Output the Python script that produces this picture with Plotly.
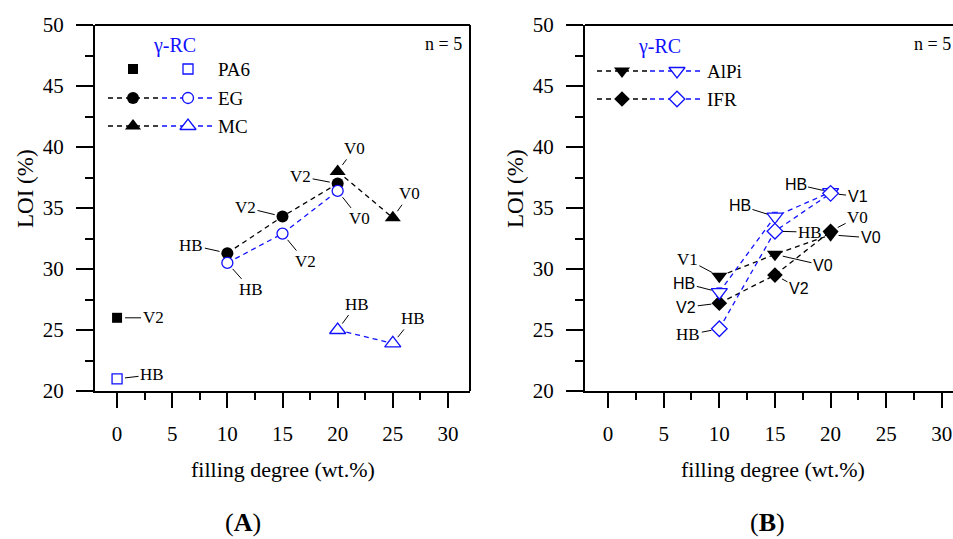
import plotly.graph_objects as go

# ---------------- data ----------------
# Panel A
pa6_x = [0]
pa6_loi = [26.0]
pa6_rc_loi = [21.0]
pa6_ul = ["V2"]
pa6_rc_ul = ["HB"]

eg_x = [10, 15, 20]
eg_loi = [31.3, 34.3, 37.0]
eg_rc_loi = [30.5, 32.9, 36.4]
eg_ul = ["HB", "V2", "V2"]
eg_rc_ul = ["HB", "V2", "V0"]

mc_x = [20, 25]
mc_loi = [38.0, 34.2]
mc_rc_loi = [25.0, 23.9]
mc_ul = ["V0", "V0"]
mc_rc_ul = ["HB", "HB"]

# Panel B
alpi_x = [10, 15, 20]
alpi_loi = [29.4, 31.2, 32.8]
alpi_rc_loi = [28.1, 34.3, 36.3]
alpi_ul = ["V1", "V0", "V0"]
alpi_rc_ul = ["HB", "HB", "HB"]

ifr_x = [10, 15, 20]
ifr_loi = [27.2, 29.5, 33.1]
ifr_rc_loi = [25.1, 33.1, 36.2]
ifr_ul = ["V2", "V2", "V0"]
ifr_rc_ul = ["HB", "HB", "V1"]

err_rc = 0.35  # small error bars visible inside the open markers

x_ticks = [0, 5, 10, 15, 20, 25, 30]
y_ticks = [20, 25, 30, 35, 40, 45, 50]
x_title = "filling degree (wt.%)"
y_title = "LOI (%)"
panel_a = "(<b>A</b>)"
panel_b = "(<b>B</b>)"
rc_label = "γ-RC"
n_label = "n = 5"
legend_a = ["PA6", "EG", "MC"]
legend_b = ["AlPi", "IFR"]

# ---------------- style ----------------
W, H = 953, 539
SERIF = "Liberation Serif"
SANS = "Liberation Sans"
BLUE = "#1010ff"
DASH = "5px,4px"

def px(v):
    return v / W

def py(v):
    return 1 - v / H

# panel frames in pixels
A_L, A_R, TOP, BOT = 95, 470, 25, 391
B_L = 585

fig = go.Figure()

def line_trace(x, y, color, xa, ya):
    fig.add_trace(go.Scatter(x=x, y=y, mode="lines", xaxis=xa, yaxis=ya,
                             line=dict(color=color, width=1.3, dash=DASH),
                             hoverinfo="skip", showlegend=False))

def mark_trace(x, y, symbol, size, filled, xa, ya, err=None):
    if filled:
        marker = dict(symbol=symbol, size=size, color="black", line=dict(width=0))
    else:
        marker = dict(symbol=symbol, size=size, color="white", line=dict(color=BLUE, width=1.3))
    kw = {}
    if err is not None:
        kw["error_y"] = dict(type="constant", value=err, color=BLUE, thickness=1, width=3)
    fig.add_trace(go.Scatter(x=x, y=y, mode="markers", xaxis=xa, yaxis=ya,
                             marker=marker, showlegend=False, **kw))

TRI = 14
DIA = 12

# ---- Panel A traces ----
line_trace(eg_x, eg_loi, "black", "x", "y")
line_trace(mc_x, mc_loi, "black", "x", "y")
line_trace(eg_x, eg_rc_loi, BLUE, "x", "y")
line_trace(mc_x, mc_rc_loi, BLUE, "x", "y")
mark_trace(pa6_x, pa6_loi, "square", 10, True, "x", "y")
mark_trace(eg_x, eg_loi, "circle", 12, True, "x", "y")
mark_trace(mc_x, mc_loi, "triangle-up", TRI, True, "x", "y")
mark_trace(pa6_x, pa6_rc_loi, "square", 10, False, "x", "y", err_rc)
mark_trace(eg_x, eg_rc_loi, "circle", 11, False, "x", "y", err_rc)
mark_trace(mc_x, mc_rc_loi, "triangle-up", TRI, False, "x", "y")

# ---- Panel B traces ----
line_trace(alpi_x, alpi_loi, "black", "x2", "y2")
line_trace(ifr_x, ifr_loi, "black", "x2", "y2")
line_trace(alpi_x, alpi_rc_loi, BLUE, "x2", "y2")
line_trace(ifr_x, ifr_rc_loi, BLUE, "x2", "y2")
mark_trace(alpi_x, alpi_loi, "triangle-down", TRI, True, "x2", "y2")
mark_trace(ifr_x, ifr_loi, "diamond", DIA, True, "x2", "y2")
mark_trace(alpi_x, alpi_rc_loi, "triangle-down", TRI, False, "x2", "y2", err_rc)
mark_trace(ifr_x, ifr_rc_loi, "diamond", DIA, False, "x2", "y2", err_rc)

# ---- point labels with leader lines ----
def labels(xs, ys, texts, offs, xref, yref, standoff=8):
    for x, y, t, (ax, ay, fam) in zip(xs, ys, texts, offs):
        fig.add_annotation(x=x, y=y, xref=xref, yref=yref, text=t,
                           showarrow=True, arrowhead=0, arrowwidth=1, arrowcolor="black",
                           ax=ax, ay=ay, standoff=standoff,
                           font=dict(family=fam, size=17 if fam == SERIF else 16, color="black"))

labels(pa6_x, pa6_loi, pa6_ul, [(36, 0, SERIF)], "x", "y")
labels(pa6_x, pa6_rc_loi, pa6_rc_ul, [(35, -4, SERIF)], "x", "y")
labels(eg_x, eg_loi, eg_ul, [(-36, -8, SERIF), (-37, -9, SERIF), (-37, -7, SERIF)], "x", "y")
labels(eg_x, eg_rc_loi, eg_rc_ul, [(24, 27, SERIF), (23, 28, SERIF), (22, 28, SERIF)], "x", "y")
labels(mc_x, mc_loi, mc_ul, [(17, -23, SERIF), (17, -24, SERIF)], "x", "y")
labels(mc_x, mc_rc_loi, mc_rc_ul, [(19, -26, SERIF), (20, -25, SERIF)], "x", "y")

labels(alpi_x, alpi_loi, alpi_ul, [(-32, -17, SERIF), (48, 11, SANS), (40, 3, SANS)], "x2", "y2")
labels(ifr_x, ifr_loi, ifr_ul, [(-33, 4, SANS), (24, 13, SANS), (27, -14, SERIF)], "x2", "y2")
labels(alpi_x, alpi_rc_loi, alpi_rc_ul, [(-35, -9, SANS), (-35, -11, SANS), (-35, -8, SANS)], "x2", "y2")
labels(ifr_x, ifr_rc_loi, ifr_rc_ul, [(-31, 6, SERIF), (35, 1, SERIF), (27, 3, SANS)], "x2", "y2")

# ---- legends (drawn in pixel-unit overlay axes) ----
def leg_line(x0, x1, y, color, xa, ya):
    fig.add_trace(go.Scatter(x=[x0, x1], y=[y, y], mode="lines", xaxis=xa, yaxis=ya,
                             line=dict(color=color, width=1.3, dash=DASH),
                             hoverinfo="skip", showlegend=False))

def leg_mark(x, y, symbol, size, filled, xa, ya):
    mark_trace([x], [y], symbol, size, filled, xa, ya)

# legend A
leg_rows_a = [69, 98, 126]
syms_a = [("square", 10, 10), ("circle", 12, 11), ("triangle-up", TRI, TRI)]
for i, (row, (sym, sb, so)) in enumerate(zip(leg_rows_a, syms_a)):
    if i > 0:
        leg_line(108, 162, row, "black", "x3", "y3")
        leg_line(162, 213, row, BLUE, "x3", "y3")
    leg_mark(133, row, sym, sb, True, "x3", "y3")
    leg_mark(188, row, sym, so, False, "x3", "y3")
    fig.add_annotation(x=216, y=row, xref="x3", yref="y3", text=legend_a[i], showarrow=False,
                       xanchor="left", yanchor="middle",
                       font=dict(family=SERIF, size=19, color="black"))
fig.add_annotation(x=174, y=45, xref="x3", yref="y3", text=rc_label, showarrow=False,
                   yanchor="middle", font=dict(family=SERIF, size=20, color=BLUE))

# legend B
leg_rows_b = [71, 99]
syms_b = [("triangle-down", TRI, TRI), ("diamond", DIA, DIA)]
for i, (row, (sym, sb, so)) in enumerate(zip(leg_rows_b, syms_b)):
    leg_line(597, 650, row, "black", "x4", "y4")
    leg_line(650, 702, row, BLUE, "x4", "y4")
    leg_mark(622, row, sym, sb, True, "x4", "y4")
    leg_mark(677, row, sym, so, False, "x4", "y4")
    fig.add_annotation(x=705, y=row, xref="x4", yref="y4", text=legend_b[i], showarrow=False,
                       xanchor="left", yanchor="middle",
                       font=dict(family=SERIF, size=19, color="black"))
fig.add_annotation(x=659, y=46, xref="x4", yref="y4", text=rc_label, showarrow=False,
                   yanchor="middle", font=dict(family=SERIF, size=20, color=BLUE))

# ---- axes ----
ydom = [py(BOT), py(TOP)]
tickfont = dict(family=SERIF, size=21, color="black")

def xaxis_cfg(dom, rng):
    return dict(domain=dom, range=rng, tickvals=x_ticks, ticks="outside", ticklen=15,
                tickwidth=2, tickcolor="black", showline=True, linewidth=2, linecolor="black",
                showgrid=False, zeroline=False, tickfont=tickfont, ticklabelstandoff=8,
                automargin=False,
                minor=dict(dtick=2.5, tick0=0, ticks="outside", ticklen=7, tickwidth=2,
                           tickcolor="black", showgrid=False))

def yaxis_cfg(anchor):
    return dict(domain=ydom, range=[20, 50], tickvals=y_ticks, ticks="outside", ticklen=17,
                tickwidth=2, tickcolor="black", showline=True, linewidth=2, linecolor="black",
                showgrid=False, zeroline=False, tickfont=tickfont, ticklabelstandoff=8,
                anchor=anchor, automargin=False,
                minor=dict(dtick=2.5, tick0=0, ticks="outside", ticklen=8, tickwidth=2,
                           tickcolor="black", showgrid=False))

def overlay_x(dom, rng, anchor):
    return dict(domain=dom, range=rng, visible=False, anchor=anchor, fixedrange=True,
                automargin=False)

def overlay_y(anchor):
    return dict(domain=ydom, range=[BOT, TOP], visible=False, anchor=anchor, fixedrange=True,
                automargin=False)

dom_a = [px(A_L), px(A_R)]
dom_b = [px(B_L), 1.0]

fig.update_layout(
    template="none",
    width=W, height=H,
    margin=dict(l=0, r=0, t=0, b=0, pad=0, autoexpand=False),
    paper_bgcolor="white", plot_bgcolor="rgba(0,0,0,0)",
    showlegend=False,
    xaxis=dict(**xaxis_cfg(dom_a, [-2, 32]), anchor="y"),
    yaxis=yaxis_cfg("x"),
    xaxis2=dict(**xaxis_cfg(dom_b, [-2.07, 31.0]), anchor="y2"),
    yaxis2=yaxis_cfg("x2"),
    xaxis3=overlay_x(dom_a, [A_L, A_R], "y3"),
    yaxis3=overlay_y("x3"),
    xaxis4=overlay_x(dom_b, [B_L, W], "y4"),
    yaxis4=overlay_y("x4"),
)

# frame lines (top for both, right for A)
fig.add_shape(type="line", xref="paper", yref="paper", x0=px(A_L), x1=px(A_R),
              y0=py(TOP), y1=py(TOP), line=dict(color="black", width=2))
fig.add_shape(type="line", xref="paper", yref="paper", x0=px(A_R), x1=px(A_R),
              y0=py(TOP), y1=py(BOT), line=dict(color="black", width=2))
fig.add_shape(type="line", xref="paper", yref="paper", x0=px(B_L), x1=1.0,
              y0=py(TOP), y1=py(TOP), line=dict(color="black", width=2))

# titles and panel letters
def paper_text(x, y, text, size, angle=0, color="black", xanchor="center"):
    fig.add_annotation(x=px(x), y=py(y), xref="paper", yref="paper", text=text,
                       showarrow=False, textangle=angle, xanchor=xanchor, yanchor="middle",
                       font=dict(family=SERIF, size=size, color=color))

paper_text(283, 469, x_title, 22)
paper_text(773, 469, x_title, 22)
paper_text(25, 189, y_title, 23, angle=-90)
paper_text(515, 189, y_title, 23, angle=-90)
paper_text(243, 522, panel_a, 26)
paper_text(767, 522, panel_b, 26)
paper_text(464, 44, n_label, 18, xanchor="right")
paper_text(953, 44, n_label, 18, xanchor="right")

fig.write_html("out.html")
